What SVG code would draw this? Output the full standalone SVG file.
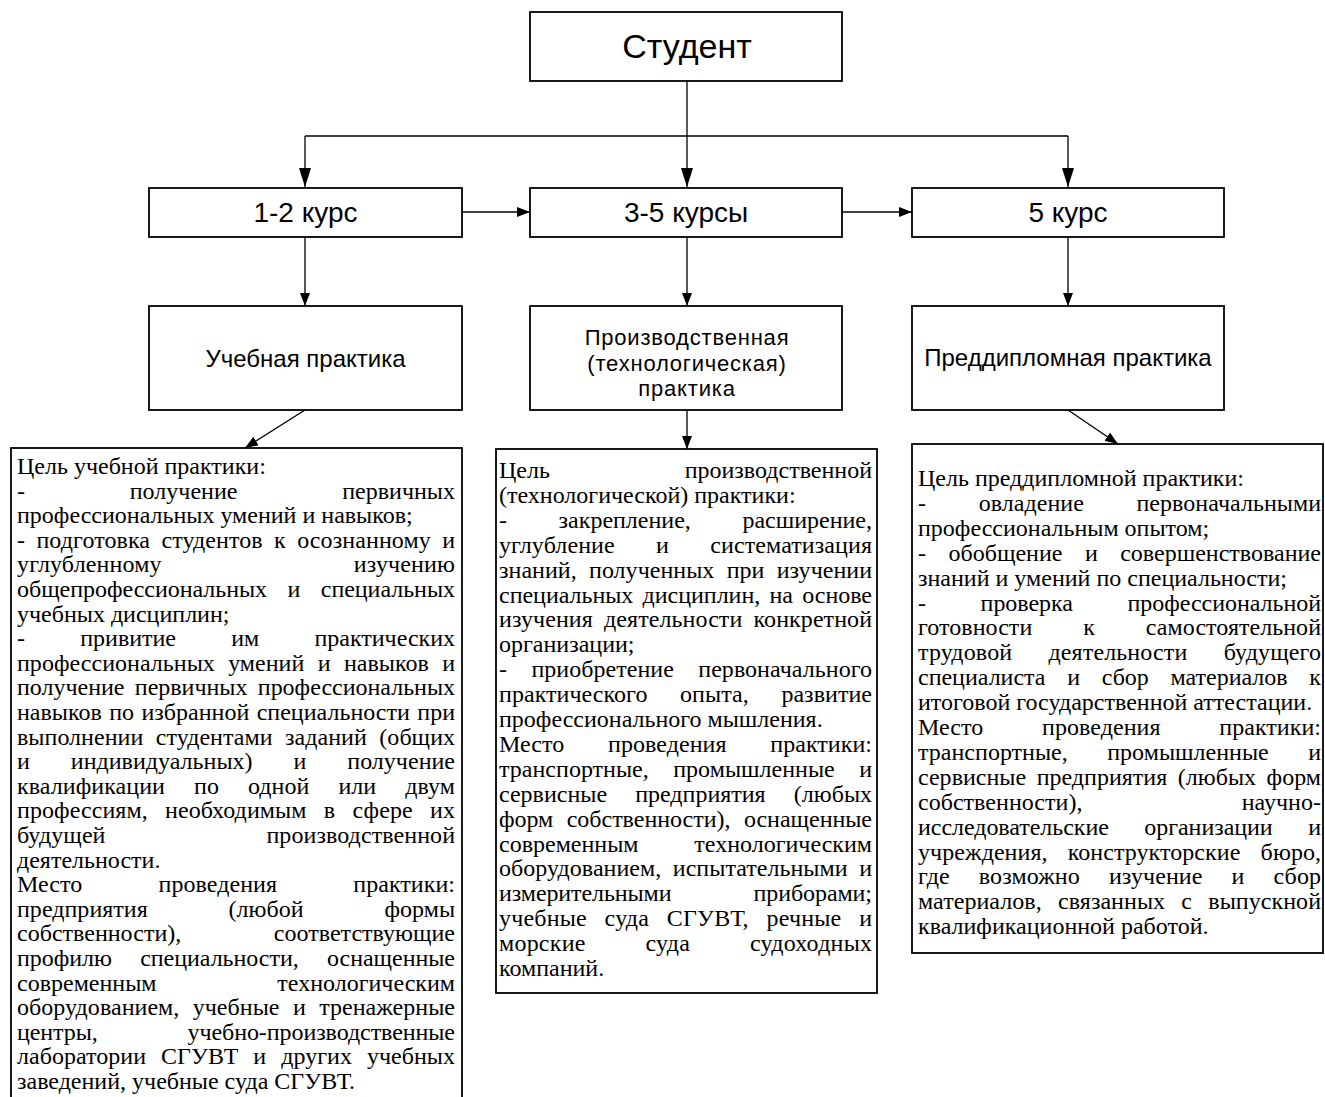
<svg xmlns="http://www.w3.org/2000/svg" width="1325" height="1097" viewBox="0 0 1325 1097">
<style>
.box{fill:#fff;stroke:#000;stroke-width:1.8}
.ln{fill:none;stroke:#000;stroke-width:1.3}
.lb{font-family:"Liberation Sans",Arial,sans-serif;fill:#000;text-anchor:middle}
.b{font-family:"Liberation Serif","Times New Roman",serif;font-size:24px;fill:#000}
</style>
<defs>
<marker id="al" markerUnits="userSpaceOnUse" markerWidth="19" markerHeight="12" refX="19" refY="6" orient="auto"><path d="M0,0 L19,6 L0,12 z" fill="#000"/></marker>
<marker id="as" markerUnits="userSpaceOnUse" markerWidth="13" markerHeight="10" refX="13" refY="5" orient="auto"><path d="M0,0 L13,5 L0,10 z" fill="#000"/></marker>
</defs>
<rect width="1325" height="1097" fill="#fff"/>

<g id="connectors">
<path class="ln" d="M305,136 H1068"/>
<path class="ln" d="M687,81 V187" marker-end="url(#al)"/>
<path class="ln" d="M305,136 V187" marker-end="url(#al)"/>
<path class="ln" d="M1068,136 V187" marker-end="url(#al)"/>
<path class="ln" d="M462,212 H530" marker-end="url(#as)"/>
<path class="ln" d="M842,212 H912" marker-end="url(#as)"/>
<path class="ln" d="M305,237 V306" marker-end="url(#as)"/>
<path class="ln" d="M687,237 V306" marker-end="url(#as)"/>
<path class="ln" d="M1068,237 V306" marker-end="url(#as)"/>
<path class="ln" d="M305,410 L245,448" marker-end="url(#as)"/>
<path class="ln" d="M687,410 V449" marker-end="url(#as)"/>
<path class="ln" d="M1068,410 L1118,444" marker-end="url(#as)"/>
</g>

<g id="student">
<rect class="box" x="530" y="12" width="312" height="69"/>
<text class="lb" x="687" y="58" font-size="34">Студент</text>
</g>

<g id="course12">
<rect class="box" x="149" y="188" width="313" height="49"/>
<text class="lb" x="305.5" y="222" font-size="28">1-2 курс</text>
</g>
<g id="course35">
<rect class="box" x="530" y="188" width="312" height="49"/>
<text class="lb" x="686" y="222" font-size="28">3-5 курсы</text>
</g>
<g id="course5">
<rect class="box" x="912" y="188" width="312" height="49"/>
<text class="lb" x="1068" y="222" font-size="28">5 курс</text>
</g>

<g id="practice1">
<rect class="box" x="149" y="306" width="313" height="104"/>
<text class="lb" x="305.5" y="366.5" font-size="24">Учебная практика</text>
</g>
<g id="practice2">
<rect class="box" x="530" y="306" width="312" height="104"/>
<text class="lb" x="687" y="345" font-size="22" letter-spacing="0.8">Производственная</text>
<text class="lb" x="687" y="370.5" font-size="22" letter-spacing="0.8">(технологическая)</text>
<text class="lb" x="687" y="396" font-size="22" letter-spacing="0.8">практика</text>
</g>
<g id="practice3">
<rect class="box" x="912" y="306" width="312" height="104"/>
<text class="lb" x="1068" y="366" font-size="24">Преддипломная практика</text>
</g>

<g id="text1">
<rect class="box" x="11" y="448" width="451" height="700"/>
<text class="b" x="17" y="474">Цель учебной практики:</text>
<text class="b" x="17" y="498.6" textLength="438" lengthAdjust="spacing" style="word-spacing:98.7px">- получение первичных</text>
<text class="b" x="17" y="523.2">профессиональных умений и навыков;</text>
<text class="b" x="17" y="547.8" textLength="438" lengthAdjust="spacing" style="word-spacing:5.2px">- подготовка студентов к осознанному и</text>
<text class="b" x="17" y="572.4" textLength="438" lengthAdjust="spacing" style="word-spacing:186px">углубленному изучению</text>
<text class="b" x="17" y="597" textLength="438" lengthAdjust="spacing" style="word-spacing:14.5px">общепрофессиональных и специальных</text>
<text class="b" x="17" y="621.6">учебных дисциплин;</text>
<text class="b" x="17" y="646.2" textLength="438" lengthAdjust="spacing" style="word-spacing:49.3px">- привитие им практических</text>
<text class="b" x="17" y="670.8" textLength="438" lengthAdjust="spacing" style="word-spacing:7.3px">профессиональных умений и навыков и</text>
<text class="b" x="17" y="695.4" textLength="438" lengthAdjust="spacing" style="word-spacing:4.4px">получение первичных профессиональных</text>
<text class="b" x="17" y="720" textLength="438" lengthAdjust="spacing" style="word-spacing:1.4px">навыков по избранной специальности при</text>
<text class="b" x="17" y="744.6" textLength="438" lengthAdjust="spacing" style="word-spacing:6.5px">выполнении студентами заданий (общих</text>
<text class="b" x="17" y="769.2" textLength="438" lengthAdjust="spacing" style="word-spacing:34.9px">и индивидуальных) и получение</text>
<text class="b" x="17" y="793.8" textLength="438" lengthAdjust="spacing" style="word-spacing:22.9px">квалификации по одной или двум</text>
<text class="b" x="17" y="818.4" textLength="438" lengthAdjust="spacing" style="word-spacing:11.3px">профессиям, необходимым в сфере их</text>
<text class="b" x="17" y="843" textLength="438" lengthAdjust="spacing" style="word-spacing:154.8px">будущей производственной</text>
<text class="b" x="17" y="867.6">деятельности.</text>
<text class="b" x="17" y="892.2" textLength="438" lengthAdjust="spacing" style="word-spacing:70.2px">Место проведения практики:</text>
<text class="b" x="17" y="916.8" textLength="438" lengthAdjust="spacing" style="word-spacing:74.7px">предприятия (любой формы</text>
<text class="b" x="17" y="941.4" textLength="438" lengthAdjust="spacing" style="word-spacing:86.6px">собственности), соответствующие</text>
<text class="b" x="17" y="966" textLength="438" lengthAdjust="spacing" style="word-spacing:22.4px">профилю специальности, оснащенные</text>
<text class="b" x="17" y="990.6" textLength="438" lengthAdjust="spacing" style="word-spacing:114.8px">современным технологическим</text>
<text class="b" x="17" y="1015.2" textLength="438" lengthAdjust="spacing" style="word-spacing:7.3px">оборудованием, учебные и тренажерные</text>
<text class="b" x="17" y="1039.8" textLength="438" lengthAdjust="spacing" style="word-spacing:83.9px">центры, учебно-производственные</text>
<text class="b" x="17" y="1064.4" textLength="438" lengthAdjust="spacing" style="word-spacing:8.9px">лаборатории СГУВТ и других учебных</text>
<text class="b" x="17" y="1089">заведений, учебные суда СГУВТ.</text>
</g>

<g id="text2">
<rect class="box" x="496" y="449" width="381" height="544"/>
<text class="b" x="499" y="478" textLength="373" lengthAdjust="spacing" style="word-spacing:128.8px">Цель производственной</text>
<text class="b" x="499" y="502.9">(технологической) практики:</text>
<text class="b" x="499" y="527.8" textLength="373" lengthAdjust="spacing" style="word-spacing:45.6px">- закрепление, расширение,</text>
<text class="b" x="499" y="552.7" textLength="373" lengthAdjust="spacing" style="word-spacing:35.2px">углубление и систематизация</text>
<text class="b" x="499" y="577.6" textLength="373" lengthAdjust="spacing" style="word-spacing:6.3px">знаний, полученных при изучении</text>
<text class="b" x="499" y="602.5" textLength="373" lengthAdjust="spacing" style="word-spacing:3.3px">специальных дисциплин, на основе</text>
<text class="b" x="499" y="627.4" textLength="373" lengthAdjust="spacing" style="word-spacing:5.2px">изучения деятельности конкретной</text>
<text class="b" x="499" y="652.3">организации;</text>
<text class="b" x="499" y="677.2" textLength="373" lengthAdjust="spacing" style="word-spacing:18.3px">- приобретение первоначального</text>
<text class="b" x="499" y="702.1" textLength="373" lengthAdjust="spacing" style="word-spacing:26.6px">практического опыта, развитие</text>
<text class="b" x="499" y="727">профессионального мышления.</text>
<text class="b" x="499" y="751.9" textLength="373" lengthAdjust="spacing" style="word-spacing:37.7px">Место проведения практики:</text>
<text class="b" x="499" y="776.8" textLength="373" lengthAdjust="spacing" style="word-spacing:18.4px">транспортные, промышленные и</text>
<text class="b" x="499" y="801.7" textLength="373" lengthAdjust="spacing" style="word-spacing:22.1px">сервисные предприятия (любых</text>
<text class="b" x="499" y="826.6" textLength="373" lengthAdjust="spacing" style="word-spacing:7.5px">форм собственности), оснащенные</text>
<text class="b" x="499" y="851.5" textLength="373" lengthAdjust="spacing" style="word-spacing:49.8px">современным технологическим</text>
<text class="b" x="499" y="876.4" textLength="373" lengthAdjust="spacing" style="word-spacing:5.5px">оборудованием, испытательными и</text>
<text class="b" x="499" y="901.3" textLength="373" lengthAdjust="spacing" style="word-spacing:76.2px">измерительными приборами;</text>
<text class="b" x="499" y="926.2" textLength="373" lengthAdjust="spacing" style="word-spacing:11.6px">учебные суда СГУВТ, речные и</text>
<text class="b" x="499" y="951.1" textLength="373" lengthAdjust="spacing" style="word-spacing:53.6px">морские суда судоходных</text>
<text class="b" x="499" y="976">компаний.</text>
</g>

<g id="text3">
<rect class="box" x="912" y="444" width="411" height="509"/>
<text class="b" x="918" y="486">Цель преддипломной практики:</text>
<text class="b" x="918" y="510.9" textLength="403" lengthAdjust="spacing" style="word-spacing:46.6px">- овладение первоначальными</text>
<text class="b" x="918" y="535.8">профессиональным опытом;</text>
<text class="b" x="918" y="560.7" textLength="403" lengthAdjust="spacing" style="word-spacing:16.5px">- обобщение и совершенствование</text>
<text class="b" x="918" y="585.6">знаний и умений по специальности;</text>
<text class="b" x="918" y="610.5" textLength="403" lengthAdjust="spacing" style="word-spacing:48.7px">- проверка профессиональной</text>
<text class="b" x="918" y="635.4" textLength="403" lengthAdjust="spacing" style="word-spacing:44.9px">готовности к самостоятельной</text>
<text class="b" x="918" y="660.3" textLength="403" lengthAdjust="spacing" style="word-spacing:30.1px">трудовой деятельности будущего</text>
<text class="b" x="918" y="685.2" textLength="403" lengthAdjust="spacing" style="word-spacing:15.7px">специалиста и сбор материалов к</text>
<text class="b" x="918" y="710.1">итоговой государственной аттестации.</text>
<text class="b" x="918" y="735" textLength="403" lengthAdjust="spacing" style="word-spacing:52.7px">Место проведения практики:</text>
<text class="b" x="918" y="759.9" textLength="403" lengthAdjust="spacing" style="word-spacing:33.4px">транспортные, промышленные и</text>
<text class="b" x="918" y="784.8" textLength="403" lengthAdjust="spacing" style="word-spacing:4.5px">сервисные предприятия (любых форм</text>
<text class="b" x="918" y="809.7" textLength="403" lengthAdjust="spacing" style="word-spacing:153.2px">собственности), научно-</text>
<text class="b" x="918" y="834.6" textLength="403" lengthAdjust="spacing" style="word-spacing:29.6px">исследовательские организации и</text>
<text class="b" x="918" y="859.5" textLength="403" lengthAdjust="spacing" style="word-spacing:14.1px">учреждения, конструкторские бюро,</text>
<text class="b" x="918" y="884.4" textLength="403" lengthAdjust="spacing" style="word-spacing:23px">где возможно изучение и сбор</text>
<text class="b" x="918" y="909.3" textLength="403" lengthAdjust="spacing" style="word-spacing:10.2px">материалов, связанных с выпускной</text>
<text class="b" x="918" y="934.2">квалификационной работой.</text>
</g>
</svg>
